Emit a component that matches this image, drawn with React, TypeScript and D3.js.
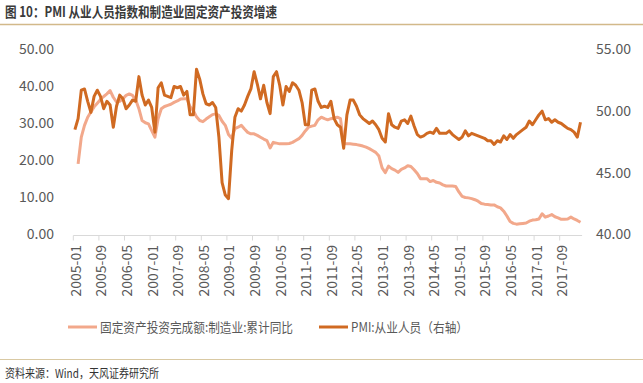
import React from "react";
import * as d3 from "d3";

// Monthly categories 2005-01 .. 2018-03
const startYear = 2005;
const monthCount = 159;
const months: string[] = d3.range(monthCount).map((i) => {
  const y = startYear + Math.floor(i / 12);
  const m = (i % 12) + 1;
  return `${y}-${m < 10 ? "0" + m : m}`;
});

const xTickLabels = [
  "2005-01", "2005-09", "2006-05", "2007-01", "2007-09", "2008-05", "2009-01",
  "2009-09", "2010-05", "2011-01", "2011-09", "2012-05", "2013-01", "2013-09",
  "2014-05", "2015-01", "2015-09", "2016-05", "2017-01", "2017-09",
];
const leftTicks = [0, 10, 20, 30, 40, 50];
const rightTicks = [40, 45, 50, 55];

// 固定资产投资完成额:制造业:累计同比 (left axis)
const faiMfg: (number | null)[] = [
  null, 19.1, 26.3, 29.5, 31.7, 33.1, 34.5, 35.5, 36.5, 37.3, 38.0, 38.9,
  37.1, 35.8, 36.0, 36.7, 37.6, 38.0, 37.6, 36.4, 34.0, 30.8, 30.2, 29.9,
  28.1, 26.3, 31.3, 34.0, 34.6, 34.9, 35.2, 35.7, 36.1, 36.6, 36.7, 36.7,
  34.5, 33.5, 31.8, 30.8, 30.5, 31.2, 31.8, 32.4, 32.6, 32.2, 30.6, 29.5,
  27.0, 26.0, 28.6, 29.0, 29.5, 28.5, 27.6, 27.2, 27.2, 26.8, 26.3, 25.8,
  25.4, 23.4, 24.9, 24.7, 24.5, 24.5, 24.5, 24.6, 24.9, 25.4, 25.9, 26.8,
  28.0, 29.0, 29.3, 29.5, 31.0, 31.7, 31.3, 31.0, 31.3, 31.5, 31.7, 31.3,
  24.6, 24.5, 24.5, 24.4, 24.3, 24.1, 23.9, 23.6, 23.2, 22.7, 22.2, 21.2,
  18.0, 16.7, 18.5, 17.8, 17.4, 16.8, 17.6, 18.0, 18.6, 18.4, 17.5, 16.5,
  15.1, 15.1, 15.1, 14.3, 14.6, 14.1, 13.9, 13.4, 13.1, 13.1, 13.1, 13.0,
  11.5, 10.3, 10.0, 9.9, 9.7, 9.4, 9.0, 8.4, 8.2, 8.1, 8.0, 8.0,
  7.5, 7.2, 6.3, 5.0, 3.5, 3.0, 2.8, 2.9, 3.0, 3.1, 3.6, 3.9,
  4.0, 4.2, 5.6, 4.7, 5.0, 5.4, 4.8, 4.5, 4.1, 4.1, 4.2, 4.7,
  4.2, 3.8, 3.3,
];

// PMI:从业人员 (right axis)
const pmiEmployment: number[] = [
  48.5, 49.4, 51.7, 51.8, 50.8, 49.9, 51.2, 51.7, 51.2, 50.2, 50.8, 50.5,
  48.7, 50.4, 51.3, 51.0, 50.2, 50.5, 50.9, 50.8, 52.8, 51.3, 50.5, 50.9,
  50.3, 48.3, 51.9, 52.3, 51.3, 51.2, 51.1, 52.0, 51.9, 52.0, 51.3, 51.6,
  49.7, 49.7, 53.4, 52.6, 51.4, 50.6, 50.5, 50.7, 50.3, 47.9, 44.2, 43.2,
  42.9, 46.8, 49.5, 50.2, 50.0, 50.5, 51.2, 51.8, 53.2, 52.2, 51.0, 52.1,
  50.7, 49.8, 52.8, 53.2, 52.1, 50.5, 52.0, 51.6, 52.3, 52.1, 51.7, 50.7,
  48.9, 48.9, 51.7, 51.8, 50.8, 50.3, 50.4, 50.3, 50.8, 49.4, 48.9, 48.7,
  47.0, 49.7, 50.9, 50.9, 50.4, 49.7, 49.4, 49.2, 49.0, 49.2, 48.9, 48.5,
  47.8, 47.5, 49.8, 48.9, 48.7, 48.6, 49.2, 49.3, 49.0, 49.6, 48.8, 48.1,
  47.9, 48.0, 48.2, 48.3, 48.2, 48.6, 48.2, 48.2, 48.2, 48.4, 48.1, 47.9,
  47.7, 47.9, 48.4, 48.0, 48.2, 48.1, 48.0, 47.9, 47.8, 47.6, 47.6, 47.3,
  47.6, 47.5, 48.0, 47.7, 48.1, 47.8, 48.1, 48.3, 48.5, 48.7, 49.2, 48.9,
  49.3, 49.7, 50.0, 49.3, 49.4, 49.1, 49.3, 49.1, 49.0, 48.8, 48.6, 48.5,
  48.3, 47.9, 49.1,
];

const seriesNames = ["固定资产投资完成额:制造业:累计同比", "PMI:从业人员（右轴）"];
const colorLight = "#f2a88b";
const colorDark = "#d06a22";
const textColor = "#595959";
const font = "'Noto Sans CJK SC', 'Open Sans', sans-serif";

export default function App() {
  const W = 643, H = 383;
  const x = d3.scaleLinear().domain([0, monthCount]).range([73.3, 582.1]);
  const yL = d3.scaleLinear().domain([0, 50]).range([234.5, 49.5]);
  const yR = d3.scaleLinear().domain([40, 55]).range([234.5, 49.5]);

  const lineL = d3
    .line<number | null>()
    .defined((d) => d != null)
    .x((_, i) => x(i + 0.5))
    .y((d) => yL(d as number));
  const lineR = d3
    .line<number>()
    .x((_, i) => x(i + 0.5))
    .y((d) => yR(d));

  const tickIdx = xTickLabels.map((l) => months.indexOf(l));

  return (
    <svg
      width={W}
      height={H}
      style={{ position: "absolute", left: 0, top: 0, background: "#fff" }}
      fontFamily={font}
    >
      <rect width={W} height={H} fill="#fff" />
      {/* title */}
      <text x={5} y={17} fontSize={14} fontWeight="bold" fill="#3a3a3a" textLength={272} lengthAdjust="spacingAndGlyphs">
        图 10：PMI 从业人员指数和制造业固定资产投资增速
      </text>
      <line x1={0} x2={W} y1={24.5} y2={24.5} stroke="#d2b98a" strokeWidth={1.5} />

      {/* left axis labels */}
      {leftTicks.map((t) => (
        <text key={"l" + t} x={54} y={yL(t)} dy="0.35em" textAnchor="end" fontSize={14} fill={textColor}>
          {t.toFixed(2)}
        </text>
      ))}
      {/* right axis labels */}
      {rightTicks.map((t) => (
        <text key={"r" + t} x={596} y={yR(t)} dy="0.35em" textAnchor="start" fontSize={14} fill={textColor}>
          {t.toFixed(2)}
        </text>
      ))}

      {/* x axis */}
      <line x1={x(0)} x2={x(monthCount)} y1={235.5} y2={235.5} stroke="#d9d9d9" strokeWidth={1} />
      {tickIdx.map((ti, k) => (
        <line key={"t" + k} x1={x(ti)} x2={x(ti)} y1={235.5} y2={240.5} stroke="#d9d9d9" strokeWidth={1} />
      ))}
      {tickIdx.map((ti, k) => (
        <text
          key={"xl" + k}
          transform={`translate(${x(ti + 0.5) + 1},245) rotate(-90)`}
          textAnchor="end"
          dy="0.35em"
          fontSize={14}
          fill={textColor}
        >
          {xTickLabels[k]}
        </text>
      ))}

      {/* series */}
      <path d={lineL(faiMfg) || ""} fill="none" stroke={colorLight} strokeWidth={3} strokeLinejoin="round" />
      <path d={lineR(pmiEmployment) || ""} fill="none" stroke={colorDark} strokeWidth={3} strokeLinejoin="round" />

      {/* legend */}
      <line x1={68} x2={97} y1={327} y2={327} stroke={colorLight} strokeWidth={3} />
      <text x={100} y={327} dy="0.35em" fontSize={13} fill={textColor} textLength={193} lengthAdjust="spacingAndGlyphs">
        {seriesNames[0]}
      </text>
      <line x1={319} x2={348} y1={327} y2={327} stroke={colorDark} strokeWidth={3} />
      <text x={351} y={327} dy="0.35em" fontSize={13} fill={textColor} textLength={117} lengthAdjust="spacingAndGlyphs">
        {seriesNames[1]}
      </text>

      {/* source */}
      <line x1={0} x2={W} y1={359.5} y2={359.5} stroke="#d9c9a3" strokeWidth={1} />
      <text x={5} y={374} dy="0.35em" fontSize={12} fill="#333" textLength={154} lengthAdjust="spacingAndGlyphs">
        资料来源：Wind，天风证券研究所
      </text>
    </svg>
  );
}
